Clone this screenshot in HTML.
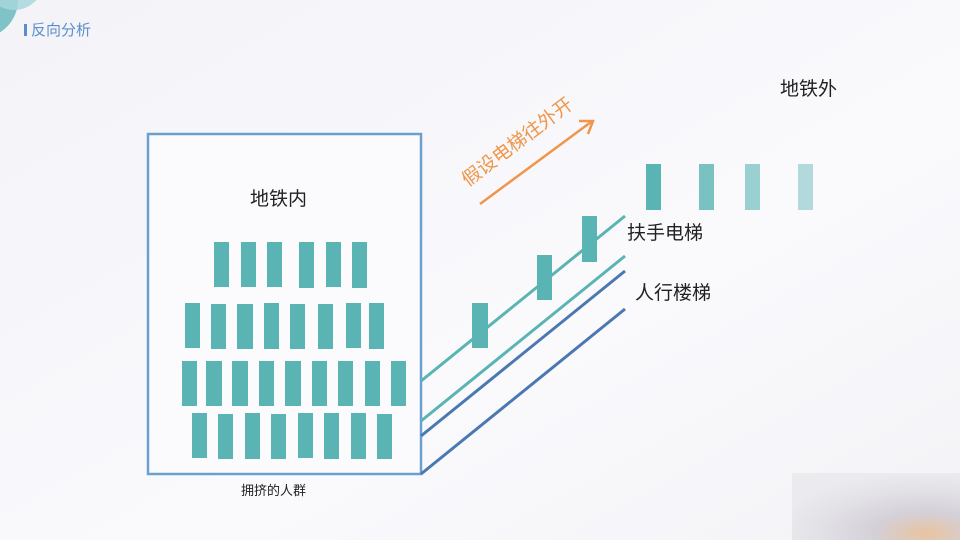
<!DOCTYPE html>
<html><head><meta charset="utf-8"><style>
body{margin:0;width:960px;height:540px;overflow:hidden;background:#f5f5f9;}
svg{display:block}
text{font-family:"Liberation Sans","Noto Sans CJK SC",sans-serif;}
</style></head><body>
<svg width="960" height="540" viewBox="0 0 960 540">
<defs>
<radialGradient id="g1" cx="0.8" cy="0.9" r="0.9">
<stop offset="0" stop-color="#e8c4a0"/><stop offset="0.35" stop-color="#d4d0d8"/><stop offset="0.7" stop-color="#e2e1e6"/><stop offset="1" stop-color="#ebeaee"/>
</radialGradient>
<linearGradient id="bg" x1="0" y1="0" x2="1" y2="1"><stop offset="0" stop-color="#f3f3f8"/><stop offset="0.6" stop-color="#fafafd"/><stop offset="1" stop-color="#f3f3f7"/></linearGradient>
</defs>
<rect width="960" height="540" fill="url(#bg)"/>
<circle cx="-20" cy="0" r="38" fill="#7fc3c6"/>
<circle cx="14" cy="-20" r="30" fill="#a8d6da" opacity="0.85"/>
<rect x="792" y="473" width="168" height="67" fill="url(#g1)"/>
<rect x="24" y="24" width="3" height="12" fill="#5b8fc9"/>
<text x="31" y="35" font-size="15" fill="#5b8fc9">反向分析</text>
<rect x="148" y="134" width="273" height="340" fill="#fbfbfe" stroke="#6a9fd0" stroke-width="2.5"/>
<text x="250" y="205" font-size="19" fill="#222">地铁内</text>
<text x="241" y="495" font-size="13" fill="#222">拥挤的人群</text>
<g fill="#5ab4b3">
<rect x="214" y="242" width="15" height="45"/><rect x="241" y="242" width="15" height="45"/><rect x="267" y="242" width="15" height="45"/><rect x="299" y="242" width="15" height="46"/><rect x="326" y="242" width="15" height="45"/><rect x="352" y="242" width="15" height="46"/>
<rect x="185" y="303" width="15" height="45"/><rect x="211" y="304" width="15" height="45"/><rect x="237" y="304" width="16" height="45"/><rect x="264" y="303" width="15" height="46"/><rect x="290" y="304" width="15" height="45"/><rect x="318" y="304" width="15" height="45"/><rect x="346" y="303" width="15" height="45"/><rect x="369" y="303" width="15" height="46"/>
<rect x="182" y="361" width="15" height="45"/><rect x="206" y="361" width="16" height="45"/><rect x="232" y="361" width="16" height="45"/><rect x="259" y="361" width="15" height="45"/><rect x="285" y="361" width="16" height="45"/><rect x="312" y="361" width="15" height="45"/><rect x="338" y="361" width="15" height="45"/><rect x="365" y="361" width="15" height="45"/><rect x="391" y="361" width="15" height="45"/>
<rect x="192" y="413" width="15" height="45"/><rect x="218" y="414" width="15" height="45"/><rect x="245" y="413" width="15" height="46"/><rect x="271" y="414" width="15" height="45"/><rect x="298" y="413" width="15" height="45"/><rect x="324" y="413" width="15" height="46"/><rect x="351" y="413" width="15" height="46"/><rect x="377" y="414" width="15" height="45"/>
</g>
<g stroke-width="3">
<line x1="421" y1="381" x2="625" y2="216" stroke="#5ab4b3"/>
<line x1="421" y1="421" x2="625" y2="256" stroke="#5ab4b3"/>
<line x1="421" y1="436" x2="625" y2="271" stroke="#4a78b0"/>
<line x1="421" y1="474" x2="625" y2="309" stroke="#4a78b0"/>
</g>
<g fill="#5ab4b3">
<rect x="472" y="303" width="16" height="45"/><rect x="537" y="255" width="15" height="45"/><rect x="582" y="216" width="15" height="46"/>
<rect x="646" y="164" width="15" height="46"/>
<rect x="699" y="164" width="15" height="46" opacity="0.8"/>
<rect x="745" y="164" width="15" height="46" opacity="0.6"/>
<rect x="798" y="164" width="15" height="46" opacity="0.45"/>
</g>
<text x="627" y="239" font-size="19" fill="#222">扶手电梯</text>
<text x="635" y="299" font-size="19" fill="#222">人行楼梯</text>
<text x="780" y="95" font-size="19" fill="#222">地铁外</text>
<line x1="480" y1="204" x2="591" y2="122" stroke="#f0964a" stroke-width="2.5"/>
<polyline points="579,121 593,121 588,134" fill="none" stroke="#f0964a" stroke-width="2.5"/>
<text x="0" y="0" font-size="19" fill="#f0964a" transform="translate(468,187) rotate(-37)">假设电梯往外开</text>
</svg>
</body></html>
